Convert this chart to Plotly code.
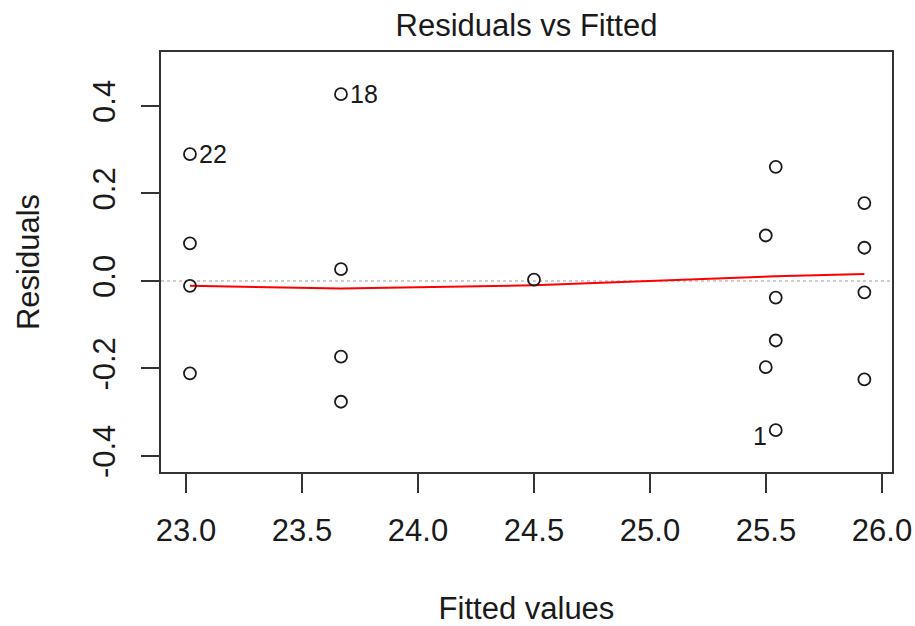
import plotly.graph_objects as go

# Data
fitted = [23.017, 23.017, 23.017, 23.017,
          23.668, 23.668, 23.668, 23.668,
          24.500,
          25.499, 25.499,
          25.542, 25.542, 25.542, 25.542,
          25.924, 25.924, 25.924, 25.924]
residuals = [0.290, 0.086, -0.011, -0.211,
             0.427, 0.027, -0.173, -0.276,
             0.003,
             0.104, -0.197,
             0.261, -0.038, -0.136, -0.341,
             0.178, 0.076, -0.026, -0.225]

# Smoother (lowess) values at the unique fitted values
smooth_x = [23.017, 23.668, 24.500, 25.499, 25.542, 25.924]
smooth_y = [-0.011, -0.017, -0.010, 0.010, 0.011, 0.016]

# Labelled extreme points
label_ids = ["22", "18", "1"]
label_x = [23.017, 23.668, 25.542]
label_y = [0.290, 0.427, -0.341]
label_side = ["right", "right", "left"]

x_tickvals = [23.0, 23.5, 24.0, 24.5, 25.0, 25.5, 26.0]
x_ticktext = ["23.0", "23.5", "24.0", "24.5", "25.0", "25.5", "26.0"]
y_tickvals = [-0.4, -0.2, 0.0, 0.2, 0.4]
y_ticktext = ["-0.4", "-0.2", "0.0", "0.2", "0.4"]

FONT = "Liberation Sans, Arial, sans-serif"
INK = "#1a1a1a"
AXIS = "#333333"

fig = go.Figure()

# zero reference line
fig.add_shape(type="line", xref="paper", yref="y", x0=0, x1=1, y0=0, y1=0,
              line=dict(color="#bdbdbd", width=1.5, dash="dot"), layer="below")

fig.add_trace(go.Scatter(
    x=smooth_x, y=smooth_y, mode="lines",
    line=dict(color="#ff0000", width=2), hoverinfo="skip", showlegend=False))

fig.add_trace(go.Scatter(
    x=fitted, y=residuals, mode="markers",
    marker=dict(symbol="circle-open", size=12, color=INK, line=dict(width=1.8, color=INK)),
    showlegend=False))

for lid, lx, ly, side in zip(label_ids, label_x, label_y, label_side):
    fig.add_annotation(
        x=lx, y=ly, text=lid, showarrow=False,
        xanchor="left" if side == "right" else "right",
        xshift=7 if side == "right" else -7,
        yshift=0 if side == "right" else -6,
        font=dict(family=FONT, size=25, color=INK))

fig.update_layout(
    width=915, height=626,
    margin=dict(l=161, r=23, t=52, b=154, autoexpand=False),
    paper_bgcolor="white", plot_bgcolor="white",
    font=dict(family=FONT, size=31, color=INK),
    title=dict(text="Residuals vs Fitted", x=526.5 / 915, xanchor="center",
               y=1 - 25 / 626, yanchor="middle", yref="container",
               automargin=False,
               font=dict(family=FONT, size=31, color=INK)),
    xaxis=dict(
        range=[22.8922, 26.0431], showgrid=False, zeroline=False,
        showline=True, mirror=True, linecolor=AXIS, linewidth=2,
        ticks="outside", ticklen=19, tickwidth=1.8, tickcolor=AXIS,
        tickvals=x_tickvals, ticktext=x_ticktext, automargin=False,
        tickfont=dict(family=FONT, size=31, color=INK),
        ticklabelstandoff=11,
        title=dict(text="Fitted values", standoff=50,
                   font=dict(family=FONT, size=31, color=INK)),
    ),
    yaxis=dict(
        range=[-0.4366, 0.5234], showgrid=False, zeroline=False,
        showline=True, mirror=True, linecolor=AXIS, linewidth=2,
        ticks="outside", ticklen=18, tickwidth=1.8, tickcolor=AXIS,
        tickvals=y_tickvals, ticktext=y_ticktext, tickangle=-90, automargin=False,
        tickfont=dict(family=FONT, size=31, color=INK),
        ticklabelstandoff=14,
        title=dict(text="Residuals", standoff=38,
                   font=dict(family=FONT, size=31, color=INK)),
    ),
)

fig.write_html("out.html",
               config={"displayModeBar": False},
               post_script="document.body.style.margin='0px';document.body.style.padding='0px';")
